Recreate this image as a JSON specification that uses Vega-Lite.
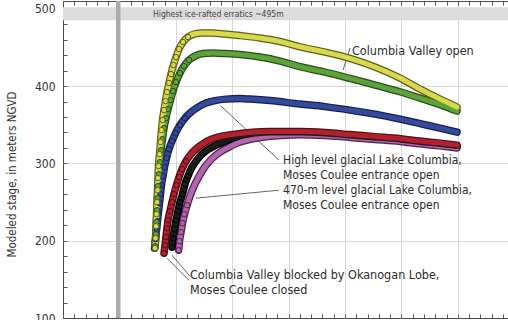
{
  "$schema": "https://vega.github.io/schema/vega-lite/v6.json",
  "width": 445,
  "height": 317,
  "autosize": {"type": "none"},
  "padding": {"left": 63, "top": 1, "right": 0, "bottom": 2},
  "background": "white",
  "config": {
    "font": "Liberation Sans Narrow, DejaVu Sans Condensed, Roboto Condensed, Liberation Sans, sans-serif",
    "view": {"stroke": "#4a4a4a", "strokeWidth": 1},
    "axis": {"domain": false, "tickColor": "#555555", "tickWidth": 1, "labelColor": "#333333", "titleColor": "#333333"}
  },
  "datasets": {
    "curves": [
      {"s": "470-m", "u": 2.051, "v": 187.7}, {"s": "470-m", "u": 2.066, "v": 199.3}, {"s": "470-m", "u": 2.092, "v": 211.0},
      {"s": "470-m", "u": 2.119, "v": 222.6}, {"s": "470-m", "u": 2.154, "v": 234.3}, {"s": "470-m", "u": 2.199, "v": 245.9},
      {"s": "470-m", "u": 2.252, "v": 257.6}, {"s": "470-m", "u": 2.314, "v": 269.2}, {"s": "470-m", "u": 2.385, "v": 279.6},
      {"s": "470-m", "u": 2.465, "v": 289.9}, {"s": "470-m", "u": 2.553, "v": 299.0}, {"s": "470-m", "u": 2.660, "v": 307.4},
      {"s": "470-m", "u": 2.784, "v": 314.5}, {"s": "470-m", "u": 2.926, "v": 320.4}, {"s": "470-m", "u": 3.103, "v": 326.5},
      {"s": "470-m", "u": 3.316, "v": 331.0}, {"s": "470-m", "u": 3.670, "v": 335.0}, {"s": "470-m", "u": 4.202, "v": 337.0},
      {"s": "470-m", "u": 4.645, "v": 336.0}, {"s": "470-m", "u": 5.089, "v": 333.6}, {"s": "470-m", "u": 5.532, "v": 331.0},
      {"s": "470-m", "u": 5.975, "v": 328.4}, {"s": "470-m", "u": 6.330, "v": 325.2}, {"s": "470-m", "u": 6.684, "v": 322.6},
      {"s": "470-m", "u": 6.986, "v": 320.0},

      {"s": "blocked-2", "u": 1.933, "v": 191.6}, {"s": "blocked-2", "u": 1.950, "v": 203.2}, {"s": "blocked-2", "u": 1.977, "v": 214.9},
      {"s": "blocked-2", "u": 2.004, "v": 226.5}, {"s": "blocked-2", "u": 2.039, "v": 238.2}, {"s": "blocked-2", "u": 2.074, "v": 249.8},
      {"s": "blocked-2", "u": 2.119, "v": 260.2}, {"s": "blocked-2", "u": 2.163, "v": 273.1}, {"s": "blocked-2", "u": 2.216, "v": 283.5},
      {"s": "blocked-2", "u": 2.278, "v": 293.8}, {"s": "blocked-2", "u": 2.358, "v": 302.9}, {"s": "blocked-2", "u": 2.447, "v": 310.6},
      {"s": "blocked-2", "u": 2.553, "v": 317.1}, {"s": "blocked-2", "u": 2.677, "v": 322.3}, {"s": "blocked-2", "u": 2.837, "v": 327.5},
      {"s": "blocked-2", "u": 3.050, "v": 333.5}, {"s": "blocked-2", "u": 3.316, "v": 337.0}, {"s": "blocked-2", "u": 3.670, "v": 339.2},
      {"s": "blocked-2", "u": 4.202, "v": 339.4}, {"s": "blocked-2", "u": 4.645, "v": 338.1}, {"s": "blocked-2", "u": 5.089, "v": 335.5},
      {"s": "blocked-2", "u": 5.532, "v": 332.9}, {"s": "blocked-2", "u": 5.975, "v": 330.3}, {"s": "blocked-2", "u": 6.330, "v": 327.1},
      {"s": "blocked-2", "u": 6.684, "v": 324.5}, {"s": "blocked-2", "u": 6.986, "v": 321.9},

      {"s": "blocked-1", "u": 1.791, "v": 183.8}, {"s": "blocked-1", "u": 1.809, "v": 194.1}, {"s": "blocked-1", "u": 1.826, "v": 204.9},
      {"s": "blocked-1", "u": 1.844, "v": 216.1}, {"s": "blocked-1", "u": 1.862, "v": 226.5}, {"s": "blocked-1", "u": 1.897, "v": 238.2},
      {"s": "blocked-1", "u": 1.933, "v": 249.8}, {"s": "blocked-1", "u": 1.968, "v": 260.2}, {"s": "blocked-1", "u": 2.012, "v": 271.8},
      {"s": "blocked-1", "u": 2.057, "v": 282.2}, {"s": "blocked-1", "u": 2.110, "v": 292.5}, {"s": "blocked-1", "u": 2.181, "v": 302.9},
      {"s": "blocked-1", "u": 2.270, "v": 311.9}, {"s": "blocked-1", "u": 2.376, "v": 319.7}, {"s": "blocked-1", "u": 2.500, "v": 326.2},
      {"s": "blocked-1", "u": 2.642, "v": 331.4}, {"s": "blocked-1", "u": 2.819, "v": 335.2}, {"s": "blocked-1", "u": 3.050, "v": 337.8},
      {"s": "blocked-1", "u": 3.316, "v": 339.8}, {"s": "blocked-1", "u": 3.670, "v": 341.1}, {"s": "blocked-1", "u": 4.202, "v": 341.1},
      {"s": "blocked-1", "u": 4.645, "v": 339.8}, {"s": "blocked-1", "u": 5.089, "v": 337.2}, {"s": "blocked-1", "u": 5.532, "v": 334.6},
      {"s": "blocked-1", "u": 5.975, "v": 332.0}, {"s": "blocked-1", "u": 6.330, "v": 328.8}, {"s": "blocked-1", "u": 6.684, "v": 326.2},
      {"s": "blocked-1", "u": 6.986, "v": 323.6},

      {"s": "high-level", "u": 1.622, "v": 190.3}, {"s": "high-level", "u": 1.640, "v": 201.9}, {"s": "high-level", "u": 1.658, "v": 213.6},
      {"s": "high-level", "u": 1.676, "v": 225.2}, {"s": "high-level", "u": 1.693, "v": 236.9}, {"s": "high-level", "u": 1.711, "v": 248.5},
      {"s": "high-level", "u": 1.729, "v": 260.2}, {"s": "high-level", "u": 1.746, "v": 271.8}, {"s": "high-level", "u": 1.773, "v": 283.5},
      {"s": "high-level", "u": 1.800, "v": 295.1}, {"s": "high-level", "u": 1.835, "v": 306.8}, {"s": "high-level", "u": 1.879, "v": 318.4},
      {"s": "high-level", "u": 1.933, "v": 328.8}, {"s": "high-level", "u": 1.995, "v": 339.1}, {"s": "high-level", "u": 2.074, "v": 349.5},
      {"s": "high-level", "u": 2.163, "v": 358.5}, {"s": "high-level", "u": 2.270, "v": 366.3}, {"s": "high-level", "u": 2.394, "v": 372.8},
      {"s": "high-level", "u": 2.535, "v": 378.0}, {"s": "high-level", "u": 2.695, "v": 381.2}, {"s": "high-level", "u": 2.890, "v": 383.1},
      {"s": "high-level", "u": 3.138, "v": 383.8}, {"s": "high-level", "u": 3.316, "v": 383.1}, {"s": "high-level", "u": 3.670, "v": 381.2},
      {"s": "high-level", "u": 4.202, "v": 376.7}, {"s": "high-level", "u": 4.645, "v": 373.4}, {"s": "high-level", "u": 5.089, "v": 368.9},
      {"s": "high-level", "u": 5.532, "v": 363.7}, {"s": "high-level", "u": 5.975, "v": 357.2}, {"s": "high-level", "u": 6.330, "v": 351.4},
      {"s": "high-level", "u": 6.684, "v": 345.6}, {"s": "high-level", "u": 6.986, "v": 340.4},

      {"s": "open-2", "u": 1.631, "v": 192.8}, {"s": "open-2", "u": 1.649, "v": 208.4}, {"s": "open-2", "u": 1.658, "v": 223.9},
      {"s": "open-2", "u": 1.667, "v": 239.4}, {"s": "open-2", "u": 1.676, "v": 255.0}, {"s": "open-2", "u": 1.684, "v": 270.5},
      {"s": "open-2", "u": 1.702, "v": 286.0}, {"s": "open-2", "u": 1.720, "v": 301.6}, {"s": "open-2", "u": 1.738, "v": 317.1},
      {"s": "open-2", "u": 1.764, "v": 331.4}, {"s": "open-2", "u": 1.791, "v": 345.6}, {"s": "open-2", "u": 1.826, "v": 358.5},
      {"s": "open-2", "u": 1.862, "v": 370.2}, {"s": "open-2", "u": 1.906, "v": 381.8}, {"s": "open-2", "u": 1.950, "v": 393.5},
      {"s": "open-2", "u": 2.004, "v": 405.1}, {"s": "open-2", "u": 2.074, "v": 416.8}, {"s": "open-2", "u": 2.145, "v": 425.9},
      {"s": "open-2", "u": 2.234, "v": 433.6}, {"s": "open-2", "u": 2.340, "v": 438.8}, {"s": "open-2", "u": 2.482, "v": 442.0},
      {"s": "open-2", "u": 2.660, "v": 442.7}, {"s": "open-2", "u": 2.872, "v": 442.0}, {"s": "open-2", "u": 3.138, "v": 440.7},
      {"s": "open-2", "u": 3.493, "v": 437.5}, {"s": "open-2", "u": 3.848, "v": 432.3}, {"s": "open-2", "u": 4.202, "v": 425.0},
      {"s": "open-2", "u": 4.645, "v": 418.1}, {"s": "open-2", "u": 5.089, "v": 409.9}, {"s": "open-2", "u": 5.532, "v": 401.3},
      {"s": "open-2", "u": 5.975, "v": 392.6}, {"s": "open-2", "u": 6.330, "v": 384.4}, {"s": "open-2", "u": 6.684, "v": 376.0},
      {"s": "open-2", "u": 6.986, "v": 367.6},

      {"s": "open-1", "u": 1.631, "v": 190.3}, {"s": "open-1", "u": 1.640, "v": 203.2}, {"s": "open-1", "u": 1.649, "v": 218.7},
      {"s": "open-1", "u": 1.658, "v": 234.3}, {"s": "open-1", "u": 1.667, "v": 249.8}, {"s": "open-1", "u": 1.676, "v": 265.3},
      {"s": "open-1", "u": 1.684, "v": 280.9}, {"s": "open-1", "u": 1.693, "v": 296.4}, {"s": "open-1", "u": 1.711, "v": 311.9},
      {"s": "open-1", "u": 1.729, "v": 327.5}, {"s": "open-1", "u": 1.746, "v": 343.0}, {"s": "open-1", "u": 1.764, "v": 356.0},
      {"s": "open-1", "u": 1.791, "v": 368.9}, {"s": "open-1", "u": 1.817, "v": 380.5}, {"s": "open-1", "u": 1.844, "v": 392.2},
      {"s": "open-1", "u": 1.879, "v": 403.9}, {"s": "open-1", "u": 1.915, "v": 415.5}, {"s": "open-1", "u": 1.959, "v": 427.2},
      {"s": "open-1", "u": 2.004, "v": 437.5}, {"s": "open-1", "u": 2.057, "v": 447.9}, {"s": "open-1", "u": 2.128, "v": 456.9},
      {"s": "open-1", "u": 2.216, "v": 463.4}, {"s": "open-1", "u": 2.323, "v": 467.3}, {"s": "open-1", "u": 2.465, "v": 468.6},
      {"s": "open-1", "u": 2.642, "v": 468.6}, {"s": "open-1", "u": 2.872, "v": 467.3}, {"s": "open-1", "u": 3.138, "v": 465.3},
      {"s": "open-1", "u": 3.493, "v": 462.1}, {"s": "open-1", "u": 3.848, "v": 457.6}, {"s": "open-1", "u": 4.202, "v": 450.8},
      {"s": "open-1", "u": 4.645, "v": 444.0}, {"s": "open-1", "u": 5.089, "v": 435.8}, {"s": "open-1", "u": 5.532, "v": 424.6},
      {"s": "open-1", "u": 5.975, "v": 410.3}, {"s": "open-1", "u": 6.330, "v": 396.1}, {"s": "open-1", "u": 6.684, "v": 383.1},
      {"s": "open-1", "u": 6.986, "v": 372.8}
    ]
  },
  "resolve": {"axis": {"x": "independent", "y": "independent"}},
  "layer": [
    {
      "data": {"values": [{"x0": 0, "x1": 7.89, "y0": 485, "y1": 502}]},
      "mark": {"type": "rect", "color": "#dcdcdc"},
      "encoding": {
        "x": {
          "field": "x0", "type": "quantitative",
          "scale": {"domain": [0, 7.89], "nice": false, "zero": false},
          "axis": {
            "orient": "bottom", "title": null, "labels": false, "tickSize": -4,
            "values": [0,0.2,0.4,0.6,0.8,1,1.2,1.4,1.6,1.8,2,2.2,2.4,2.6,2.8,3,3.2,3.4,3.6,3.8,4,4.2,4.4,4.6,4.8,5,5.2,5.4,5.6,5.8,6,6.2,6.4,6.6,6.8,7,7.2,7.4,7.6,7.8],
            "grid": true, "gridColor": "#d8d8d8",
            "gridOpacity": {"condition": {"test": "abs(datum.value - round(datum.value)) < 0.001 && datum.value > 0.5", "value": 1}, "value": 0}
          }
        },
        "x2": {"field": "x1"},
        "y": {
          "field": "y0", "type": "quantitative",
          "scale": {"domain": [100, 510], "nice": false, "zero": false},
          "axis": {
            "orient": "left", "title": "Modeled stage, in meters NGVD",
            "titleFontSize": 11.5, "titleFontWeight": "normal", "titleX": -46, "titleY": 173,
            "values": [100,120,140,160,180,200,220,240,260,280,300,320,340,360,380,400,420,440,460,480,500],
            "labelExpr": "datum.value % 100 === 0 ? datum.label : ''",
            "labelFontSize": 12, "tickSize": -4, "labelPadding": 12,
            "grid": true, "gridColor": "#d8d8d8",
            "gridOpacity": {"condition": {"test": "datum.value % 100 === 0 && datum.value > 100 && datum.value < 500", "value": 1}, "value": 0}
          }
        },
        "y2": {"field": "y1"}
      }
    },
    {
      "data": {"values": [{"x0": 0.94, "x1": 1.02, "y0": 100, "y1": 510}]},
      "mark": {"type": "rect", "color": "#ababab"},
      "encoding": {
        "x": {
          "field": "x0", "type": "quantitative",
          "axis": {
            "orient": "top", "title": null, "labels": false, "tickSize": -4, "grid": false,
            "values": [0,0.2,0.4,0.6,0.8,1,1.2,1.4,1.6,1.8,2,2.2,2.4,2.6,2.8,3,3.2,3.4,3.6,3.8,4,4.2,4.4,4.6,4.8,5,5.2,5.4,5.6,5.8,6,6.2,6.4,6.6,6.8,7,7.2,7.4,7.6,7.8]
          }
        },
        "x2": {"field": "x1"},
        "y": {"field": "y0", "type": "quantitative", "axis": null},
        "y2": {"field": "y1"}
      }
    },
    {
      "data": {"values": [
        {"x": 5.089, "y": 449.2, "x2": 4.965, "y2": 420.7},
        {"x": 2.801, "y": 374.1, "x2": 3.830, "y2": 304.2},
        {"x": 2.358, "y": 255.0, "x2": 3.830, "y2": 265.3},
        {"x": 1.844, "y": 177.3, "x2": 2.234, "y2": 148.8},
        {"x": 1.933, "y": 181.2, "x2": 2.252, "y2": 154.0}
      ]},
      "mark": {"type": "rule", "color": "#555555", "strokeWidth": 0.9},
      "encoding": {
        "x": {"field": "x", "type": "quantitative", "axis": null},
        "y": {"field": "y", "type": "quantitative", "axis": null},
        "x2": {"field": "x2"},
        "y2": {"field": "y2"}
      }
    },
    {
      "data": {"name": "curves"},
      "mark": {"type": "line", "strokeWidth": 7.5, "interpolate": "monotone", "strokeCap": "round"},
      "encoding": {
        "x": {"field": "u", "type": "quantitative", "axis": null},
        "y": {"field": "v", "type": "quantitative", "axis": null},
        "stroke": {"field": "s", "type": "nominal", "legend": null,
          "scale": {"domain": ["open-1", "open-2", "high-level", "blocked-1", "blocked-2", "470-m"],
                    "range": ["#5e5e1e", "#2a4c1e", "#18204e", "#520f1a", "#000000", "#55204f"]}}
      }
    },
    {
      "data": {"name": "curves"},
      "mark": {"type": "line", "strokeWidth": 5, "interpolate": "monotone", "strokeCap": "round"},
      "encoding": {
        "x": {"field": "u", "type": "quantitative", "axis": null},
        "y": {"field": "v", "type": "quantitative", "axis": null},
        "color": {"field": "s", "type": "nominal", "legend": null,
          "scale": {"domain": ["open-1", "open-2", "high-level", "blocked-1", "blocked-2", "470-m"],
                    "range": ["#d9d94c", "#5ea33a", "#354a9c", "#b3212f", "#1c1c1c", "#b266ad"]}}
      }
    },
    {
      "data": {"name": "curves"},
      "transform": [{"filter": "datum.u < 2.25"}],
      "mark": {"type": "circle", "size": 30, "strokeWidth": 1, "opacity": 1},
      "encoding": {
        "x": {"field": "u", "type": "quantitative", "axis": null},
        "y": {"field": "v", "type": "quantitative", "axis": null},
        "fill": {"field": "s", "type": "nominal", "legend": null,
          "scale": {"domain": ["open-1", "open-2", "high-level", "blocked-1", "blocked-2", "470-m"],
                    "range": ["#d9d94c", "#5ea33a", "#354a9c", "#b3212f", "#1c1c1c", "#b266ad"]}},
        "stroke": {"field": "s", "type": "nominal", "legend": null}
      }
    },
    {
      "data": {"values": [
        {"x": 3.901, "y": 304.2, "t": "High level glacial Lake Columbia,"},
        {"x": 3.901, "y": 284.8, "t": "Moses Coulee entrance open"},
        {"x": 3.901, "y": 265.3, "t": "470-m level glacial Lake Columbia,"},
        {"x": 3.901, "y": 245.9, "t": "Moses Coulee entrance open"}
      ]},
      "mark": {"type": "text", "align": "left", "baseline": "middle", "fontSize": 12, "color": "#2b2b2b"},
      "encoding": {
        "x": {"field": "x", "type": "quantitative", "axis": null},
        "y": {"field": "y", "type": "quantitative", "axis": null},
        "text": {"field": "t"}
      }
    },
    {
      "data": {"values": [
        {"x": 2.252, "y": 155.3, "t": "Columbia Valley blocked by Okanogan Lobe,"},
        {"x": 2.252, "y": 135.9, "t": "Moses Coulee closed"}
      ]},
      "mark": {"type": "text", "align": "left", "baseline": "middle", "fontSize": 12.5, "color": "#2b2b2b"},
      "encoding": {
        "x": {"field": "x", "type": "quantitative", "axis": null},
        "y": {"field": "y", "type": "quantitative", "axis": null},
        "text": {"field": "t"}
      }
    },
    {
      "data": {"values": [{"x": 5.124, "y": 445.3, "t": "Columbia Valley open"}]},
      "mark": {"type": "text", "align": "left", "baseline": "middle", "fontSize": 12.5, "color": "#2b2b2b"},
      "encoding": {
        "x": {"field": "x", "type": "quantitative", "axis": null},
        "y": {"field": "y", "type": "quantitative", "axis": null},
        "text": {"field": "t"}
      }
    },
    {
      "data": {"values": [{"x": 1.596, "y": 493.2, "t": "Highest ice-rafted erratics ~495m"}]},
      "mark": {"type": "text", "align": "left", "baseline": "middle", "fontSize": 8.5, "color": "#444444"},
      "encoding": {
        "x": {"field": "x", "type": "quantitative", "axis": null},
        "y": {"field": "y", "type": "quantitative", "axis": null},
        "text": {"field": "t"}
      }
    }
  ]
}
